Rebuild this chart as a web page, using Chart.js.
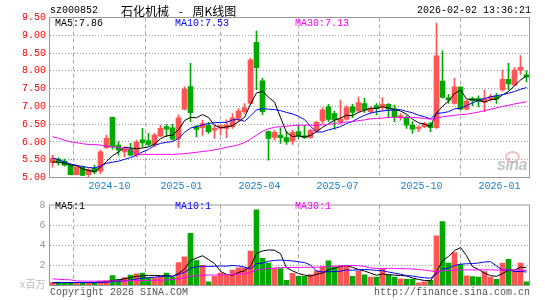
<!DOCTYPE html>
<html><head><meta charset="utf-8">
<script src="https://cdn.jsdelivr.net/npm/chart.js@4.4.1/dist/chart.umd.min.js"></script>
<style>
html,body{margin:0;padding:0;background:#fff;width:545px;height:300px;overflow:hidden}
#wrap{position:relative;width:545px;height:300px}
canvas{position:absolute;left:0}
.t{position:absolute;font:10px 'Liberation Mono',monospace;line-height:10px;white-space:pre;color:#000}
</style></head><body>
<div id="wrap">
<canvas id="pc" width="545" height="195" style="top:0;width:545px;height:195px"></canvas>
<canvas id="vc" width="545" height="105" style="top:195px;width:545px;height:105px"></canvas>
<div class="t" style="left:50px;top:6px">sz000852</div>
<div class="t" style="left:121px;top:5px;font:12px 'Noto Sans CJK SC';line-height:12px;word-spacing:7px">石化机械 - 周K线图</div>
<div class="t" style="right:14px;top:6px">2026-02-02 13:36:21</div>
<div class="t" style="left:55px;top:19px;color:#000">MA5:7.86</div>
<div class="t" style="left:175px;top:19px;color:#0000ff">MA10:7.53</div>
<div class="t" style="left:295px;top:19px;color:#ff00ff">MA30:7.13</div>
<div class="t" style="left:55px;top:202px;color:#000">MA5:1</div>
<div class="t" style="left:175px;top:202px;color:#0000ff">MA10:1</div>
<div class="t" style="left:295px;top:202px;color:#ff00ff">MA30:1</div>
<div class="t" style="left:50px;top:288px;color:#555">Copyright 2026 SINA.COM</div>
<div class="t" style="left:374px;top:288px;color:#555">http://finance.sina.com.cn</div>
<div style="position:absolute;left:505px;top:151px;width:11px;height:8px;border:2px solid rgba(240,140,140,0.55);border-radius:50%"></div>
<div class="t" style="left:497px;top:157px;font:italic bold 16px 'Liberation Sans';line-height:16px;letter-spacing:-0.5px;color:rgba(175,175,175,0.75)">sina</div>
</div>
<script>
const weeks = ["2024-08-02","2024-08-09","2024-08-16","2024-08-23","2024-08-30","2024-09-06","2024-09-13","2024-09-20","2024-09-27","2024-09-30",
"2024-10-11","2024-10-18","2024-10-25","2024-11-01","2024-11-08","2024-11-15","2024-11-22","2024-11-29","2024-12-06","2024-12-13",
"2024-12-20","2024-12-27","2025-01-03","2025-01-10","2025-01-17","2025-01-24","2025-01-27","2025-02-07","2025-02-14","2025-02-21",
"2025-02-28","2025-03-07","2025-03-14","2025-03-21","2025-03-28","2025-04-03","2025-04-11","2025-04-18","2025-04-25","2025-04-30",
"2025-05-09","2025-05-16","2025-05-23","2025-05-30","2025-06-06","2025-06-13","2025-06-20","2025-06-27","2025-07-04","2025-07-11",
"2025-07-18","2025-07-25","2025-08-01","2025-08-08","2025-08-15","2025-08-22","2025-08-29","2025-09-05","2025-09-12","2025-09-19",
"2025-09-26","2025-09-30","2025-10-10","2025-10-17","2025-10-24","2025-10-31","2025-11-07","2025-11-14","2025-11-21","2025-11-28",
"2025-12-05","2025-12-12","2025-12-19","2025-12-26","2025-12-31","2026-01-09","2026-01-16","2026-01-23","2026-01-30","2026-02-02"];

const open = [5.42,5.52,5.46,5.35,5.08,5.29,5.08,5.26,5.18,5.84, 6.69,5.91,5.72,5.80,5.63,6.06,6.04,5.93,6.16,6.43,
6.40,6.10,6.92,7.56,6.43,6.40,6.47,6.33,6.38,6.38, 6.43,6.66,6.85,7.08,8.80,7.72,6.29,6.13,6.19,6.12,
6.02,6.29,6.17,6.13,6.31,6.59,6.99,6.80,6.57,6.64, 6.99,6.87,7.08,6.85,7.02,6.99,7.06,6.94,6.69,6.69,
6.47,6.38,6.43,6.52,6.40,7.71,7.24,7.08,7.54,6.92, 7.22,7.22,7.11,7.21,7.29,7.46,7.76,7.60,8.02,7.89];
const high = [5.63,5.56,5.52,5.38,5.35,5.32,5.25,5.35,5.77,6.19, 6.70,6.00,5.86,5.96,6.05,6.38,6.24,6.24,6.47,6.49,
6.50,6.76,7.55,8.21,6.47,6.61,6.55,6.46,6.47,6.62, 6.80,6.94,7.08,8.35,9.12,7.79,6.31,6.33,6.40,6.29,
6.33,6.46,6.47,6.36,6.59,6.97,7.06,6.87,7.18,7.02, 7.06,7.27,7.23,6.99,7.08,7.25,7.08,7.04,6.80,6.74,
6.57,6.46,6.55,6.55,9.34,8.56,7.34,7.79,7.55,7.18, 7.26,7.30,7.46,7.34,7.37,8.02,8.21,8.09,8.43,8.00];
const low = [5.29,5.35,5.32,5.07,5.07,5.05,4.99,5.10,5.11,5.82, 5.80,5.63,5.58,5.61,5.58,5.86,5.89,5.86,6.15,6.15,
6.05,5.84,6.90,6.57,6.14,6.19,6.24,6.10,6.19,6.12, 6.38,6.57,6.80,7.06,7.46,6.77,5.49,6.05,5.96,5.93,
5.93,6.10,6.10,6.10,6.27,6.52,6.57,6.36,6.50,6.61, 6.68,6.83,6.83,6.80,6.76,6.87,6.68,6.57,6.61,6.38,
6.24,6.29,6.40,6.29,6.38,7.23,7.08,7.06,6.90,6.90, 7.02,6.99,6.85,7.15,7.08,7.43,7.46,7.58,7.90,7.69];
const close = [5.54,5.42,5.35,5.08,5.30,5.06,5.22,5.16,5.72,6.10, 5.86,5.77,5.80,5.63,5.99,5.97,5.93,6.19,6.38,6.36,
6.08,6.68,7.49,6.82,6.35,6.52,6.29,6.38,6.46,6.47, 6.68,6.87,6.96,8.31,8.09,6.85,6.10,6.27,6.12,6.00,
6.27,6.17,6.12,6.33,6.55,6.90,6.63,6.62,6.64,6.97, 6.83,7.11,6.90,6.94,6.94,7.06,6.92,6.71,6.74,6.47,
6.36,6.42,6.52,6.40,8.42,7.25,7.18,7.55,6.92,7.15, 7.16,7.13,7.22,7.27,7.21,7.76,7.63,8.02,8.10,7.82];

const ma5 = [5.44,5.43,5.40,5.35,5.34,5.24,5.20,5.16,5.29,5.45, 5.61,5.72,5.85,5.83,5.81,5.83,5.86,5.94,6.09,6.17,
6.19,6.34,6.60,6.69,6.68,6.77,6.69,6.47,6.40,6.42, 6.46,6.57,6.69,7.06,7.38,7.42,7.26,7.12,6.69,6.27,
6.15,6.17,6.14,6.18,6.29,6.41,6.51,6.61,6.67,6.75, 6.74,6.83,6.89,6.95,6.94,6.99,6.95,6.91,6.87,6.78,
6.64,6.54,6.50,6.43,6.82,7.00,7.15,7.36,7.46,7.21, 7.19,7.18,7.12,7.19,7.20,7.32,7.42,7.58,7.74,7.86];
const ma10 = [5.55,5.50,5.44,5.38,5.34,5.31,5.28,5.27,5.32,5.40, 5.43,5.46,5.51,5.56,5.63,5.72,5.79,5.90,5.96,5.99,
6.01,6.10,6.27,6.39,6.43,6.48,6.52,6.54,6.55,6.55, 6.62,6.63,6.58,6.73,6.90,6.94,6.92,6.91,6.88,6.83,
6.79,6.72,6.63,6.44,6.28,6.28,6.34,6.38,6.43,6.52, 6.58,6.67,6.75,6.81,6.85,6.87,6.89,6.90,6.91,6.86,
6.82,6.75,6.71,6.65,6.80,6.82,6.85,6.93,6.95,7.02, 7.10,7.17,7.22,7.27,7.30,7.33,7.37,7.42,7.48,7.53];
const ma30 = [6.15,6.10,6.05,6.00,5.98,5.95,5.93,5.93,5.91,5.88, 5.86,5.85,5.82,5.78,5.66,5.65,5.65,5.65,5.65,5.65,
5.65,5.66,5.67,5.69,5.71,5.73,5.75,5.78,5.81,5.85, 5.88,5.92,5.98,6.08,6.19,6.30,6.37,6.41,6.43,6.44,
6.46,6.47,6.47,6.47,6.47,6.48,6.49,6.52,6.54,6.56, 6.57,6.60,6.62,6.65,6.66,6.67,6.69,6.69,6.69,6.69,
6.69,6.68,6.66,6.64,6.66,6.71,6.73,6.75,6.77,6.78, 6.81,6.84,6.88,6.92,6.96,7.00,7.03,7.07,7.10,7.13];

const volume = [0.30,0.35,0.30,0.30,0.25,0.30,0.25,0.30,0.45,0.50, 0.98,0.58,0.79,1.04,1.17,1.23,0.77,0.77,0.92,1.23,
0.83,2.28,2.85,5.19,2.48,2.01,0.36,0.92,1.23,1.05, 1.54,1.76,1.76,3.41,7.53,2.70,2.23,1.67,1.67,0.51,
1.20,0.92,0.92,1.08,1.45,1.85,2.44,1.85,1.85,1.92, 0.92,1.45,1.05,0.83,0.83,1.60,1.05,0.83,0.67,0.61,
0.61,0.27,0.36,0.51,4.94,6.34,2.23,3.26,2.08,0.95, 0.89,0.83,1.39,0.83,0.61,2.23,2.60,1.45,2.23,0.36];
const volMa5 = [0.28,0.29,0.30,0.30,0.30,0.30,0.28,0.28,0.31,0.36, 0.50,0.56,0.66,0.78,0.91,0.96,1.00,1.00,0.97,0.98,
0.90,1.21,1.62,2.48,2.73,2.96,2.58,2.19,1.40,1.11, 1.02,1.30,1.47,1.90,3.20,3.43,3.53,3.51,3.16,1.76,
1.46,1.19,1.04,0.93,1.11,1.24,1.55,1.73,1.89,1.98, 1.80,1.60,1.44,1.23,1.02,1.15,1.07,1.03,1.00,0.95,
0.75,0.60,0.50,0.47,1.34,2.48,2.88,3.46,3.77,2.97, 1.88,1.60,1.23,0.98,0.91,1.18,1.53,1.54,1.82,1.77];
const volMa10 = [0.28,0.28,0.29,0.29,0.30,0.30,0.30,0.31,0.32,0.33, 0.40,0.42,0.47,0.54,0.64,0.73,0.78,0.83,0.88,0.95,
0.93,1.10,1.31,1.72,1.86,1.93,1.89,1.91,1.94,1.92, 1.99,1.94,1.83,1.65,2.16,2.23,2.41,2.49,2.53,2.48,
2.44,2.36,2.28,2.04,1.44,1.35,1.37,1.39,1.41,1.55, 1.52,1.57,1.59,1.56,1.50,1.47,1.34,1.23,1.12,0.98,
0.95,0.84,0.77,0.73,1.15,1.62,1.74,1.98,2.12,2.16, 2.18,2.24,2.34,2.37,1.94,1.53,1.57,1.39,1.40,1.34];
const volMa30 = [0.66,0.62,0.58,0.56,0.45,0.44,0.43,0.43,0.43,0.43, 0.45,0.46,0.47,0.48,0.49,0.50,0.51,0.52,0.53,0.55,
0.60,0.68,0.78,0.92,0.98,1.03,1.04,1.05,1.06,1.07, 1.11,1.15,1.20,1.31,1.55,1.63,1.70,1.74,1.78,1.78,
1.79,1.80,1.81,1.81,1.82,1.84,1.89,1.93,1.96,1.98, 1.99,1.96,1.90,1.75,1.70,1.68,1.71,1.70,1.68,1.67,
1.64,1.59,1.54,1.45,1.36,1.48,1.48,1.53,1.55,1.56, 1.55,1.55,1.56,1.56,1.53,1.54,1.55,1.53,1.55,1.49];

const priceTicks = [5.00,5.50,6.00,6.50,7.00,7.50,8.00,8.50,9.00,9.50];
const volTicks = [0,2,4,6,8];
const tickLabels = ["2024-10","2025-01","2025-04","2025-07","2025-10","2026-01"];

// ---- derived ----
const N = weeks.length;
const RED = '#ff5555', GREEN = '#00a800';
const colors = close.map((c, i) => c >= open[i] ? RED : GREEN);
const tickPos = tickLabels.map(lbl => weeks.findIndex(w => w.startsWith(lbl)) - 0.5);
const FONT = {family: "'Liberation Mono', monospace", size: 10};

const framePlugin = {
  id: 'frame',
  afterDraw(chart) {
    const {ctx, chartArea: a} = chart;
    ctx.save();
    ctx.strokeStyle = '#999';
    ctx.lineWidth = 1;
    ctx.strokeRect(a.left, a.top, a.right - a.left, a.bottom - a.top);
    ctx.restore();
  }
};

function xAxis(showLabels, h) {
  return {
    type: 'linear', min: -0.5, max: N - 0.5, offset: false,
    afterBuildTicks: s => { s.ticks = tickPos.map(v => ({value: v})); },
    afterFit: s => { s.height = h; },
    ticks: {
      display: showLabels, autoSkip: false, maxRotation: 0, color: '#1a84c8', font: FONT, padding: 3,
      callback: (v, i) => tickLabels[i]
    },
    grid: {color: '#aaa', lineWidth: 1, drawTicks: false},
    border: {display: false, dash: [4, 3]}
  };
}

function line(data, color) {
  return {type: 'line', data: data.map((y, i) => ({x: i, y})), borderColor: color, borderWidth: 1,
    pointRadius: 0, tension: 0, fill: false, order: 0};
}

new Chart(document.getElementById('pc'), {
  data: {
    datasets: [
      {type: 'bar', data: close.map((c, i) => ({x: i, y: [low[i], high[i]]})), backgroundColor: colors,
        grouped: false, barThickness: 1, maxBarThickness: 1, order: 3},
      {type: 'bar', data: close.map((c, i) => ({x: i, y: [open[i], c]})), backgroundColor: colors,
        grouped: false, barThickness: 5, maxBarThickness: 5, minBarLength: 1, order: 2},
      line(ma30, '#ff00ff'),
      line(ma10, '#0000ff'),
      line(ma5, '#000000')
    ]
  },
  options: {
    responsive: false, animation: false, events: [],
    layout: {padding: {left: 0, right: 15.5, top: 17.5, bottom: 0}, autoPadding: false},
    plugins: {legend: {display: false}, tooltip: {enabled: false}},
    scales: {
      x: xAxis(true, 17.5),
      y: {
        type: 'linear', min: 5, max: 9.5,
        afterBuildTicks: s => { s.ticks = priceTicks.map(v => ({value: v})); },
        afterFit: s => { s.width = 49.5; },
        ticks: {color: '#ff0000', font: FONT, padding: 3.5, autoSkip: false, callback: v => v.toFixed(2)},
        grid: {drawTicks: false, lineWidth: 1,
          color: c => (c.tick && (c.tick.value === 5 || c.tick.value === 9.5)) ? 'rgba(0,0,0,0)' : '#999'},
        border: {display: false, dash: [1, 2]}
      }
    }
  },
  plugins: [framePlugin]
});

new Chart(document.getElementById('vc'), {
  data: {
    datasets: [
      {type: 'bar', data: volume.map((v, i) => ({x: i, y: v})), backgroundColor: colors,
        grouped: false, barThickness: 5, maxBarThickness: 5, order: 2},
      line(volMa30, '#ff00ff'),
      line(volMa10, '#0000ff'),
      line(volMa5, '#000000')
    ]
  },
  options: {
    responsive: false, animation: false, events: [],
    layout: {padding: {left: 0, right: 15.5, top: 6.5, bottom: 0}, autoPadding: false},
    plugins: {legend: {display: false}, tooltip: {enabled: false}},
    scales: {
      x: xAxis(false, 14.5),
      y: {
        type: 'linear', min: 0, max: 8,
        afterBuildTicks: s => { s.ticks = volTicks.map(v => ({value: v})); },
        afterFit: s => { s.width = 49.5; },
        ticks: {font: {family: "'Liberation Mono','Noto Sans CJK SC', monospace", size: 10}, padding: 4, autoSkip: false,
          color: c => c.tick && c.tick.value === 0 ? '#bbb' : '#999',
          callback: v => v === 0 ? 'x百万' : String(v)},
        grid: {drawTicks: false, lineWidth: 1,
          color: c => (c.tick && (c.tick.value === 0 || c.tick.value === 8)) ? 'rgba(0,0,0,0)' : '#999'},
        border: {display: false, dash: [1, 2]}
      }
    }
  },
  plugins: [framePlugin]
});
</script>
</body></html>
